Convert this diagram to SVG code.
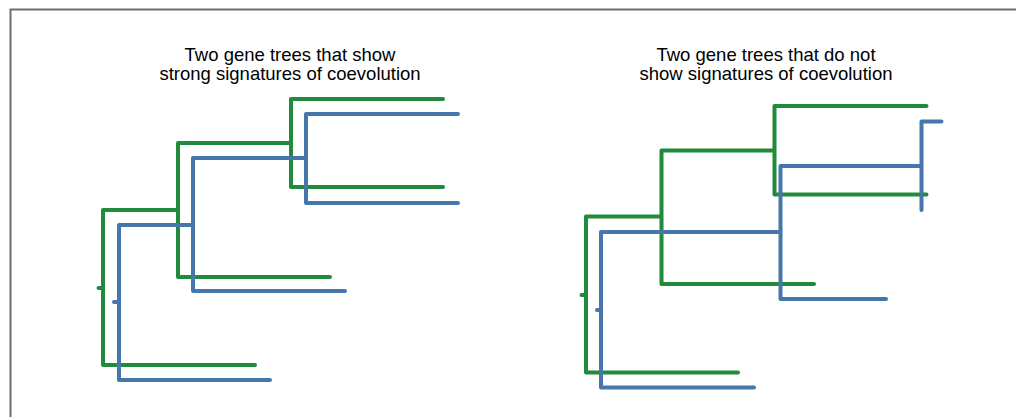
<svg xmlns="http://www.w3.org/2000/svg" width="1016" height="417" viewBox="0 0 1016 417">
  <style>
    .frame { fill: none; stroke: #6e6e6e; stroke-width: 2; }
    .title { font-family: "Liberation Sans", Arial, sans-serif; font-size: 18.5px; fill: #000; text-anchor: middle; }
    .branch { fill: none; stroke-width: 4; stroke-linecap: round; stroke-linejoin: round; }
    .gA { stroke: #218a3d; }
    .gB { stroke: #4677ac; }
  </style>
  <rect width="1016" height="417" fill="#ffffff"/>
  <path class="frame" d="M10.5,417 V9.5 H1016"/>

  <!-- Left panel: congruent trees -->
  <g id="title-left">
    <text class="title" x="290" y="61">Two gene trees that show</text>
    <text class="title" x="290" y="80">strong signatures of coevolution</text>
  </g>
  <g id="tree-left-green">
    <path class="branch gA" d="M98.5,288 H103 M103,210 V365 H255 M103,210 H178 M178,143 V277 H330 M178,143 H291 M291,99 V187 M291,99 H443 M291,187 H443"/>
  </g>
  <g id="tree-left-blue">
    <path class="branch gB" d="M114,302 H119 M119,225 V380 H270 M119,225 H193 M193,158 V291 H345 M193,158 H306 M306,114 V203 M306,114 H458 M306,203 H458"/>
  </g>

  <!-- Right panel: incongruent trees -->
  <g id="title-right">
    <text class="title" x="766" y="61">Two gene trees that do not</text>
    <text class="title" x="766" y="80">show signatures of coevolution</text>
  </g>
  <g id="tree-right-green">
    <path class="branch gA" d="M581.5,295 H586 M586,216.5 V372.5 H738 M586,216.5 H661.5 M661.5,150.5 V284 H814 M661.5,150.5 H774.5 M774.5,106 V194.5 M774.5,106 H926.5 M774.5,194.5 H926.5"/>
  </g>
  <g id="tree-right-blue">
    <path class="branch gB" d="M597,310 H601 M601,232 V387.5 H754 M601,232 H780.5 M780.5,166 V299 H886 M780.5,166 H921.5 M921.5,121.5 V210 M921.5,121.5 H941.5"/>
  </g>
</svg>
